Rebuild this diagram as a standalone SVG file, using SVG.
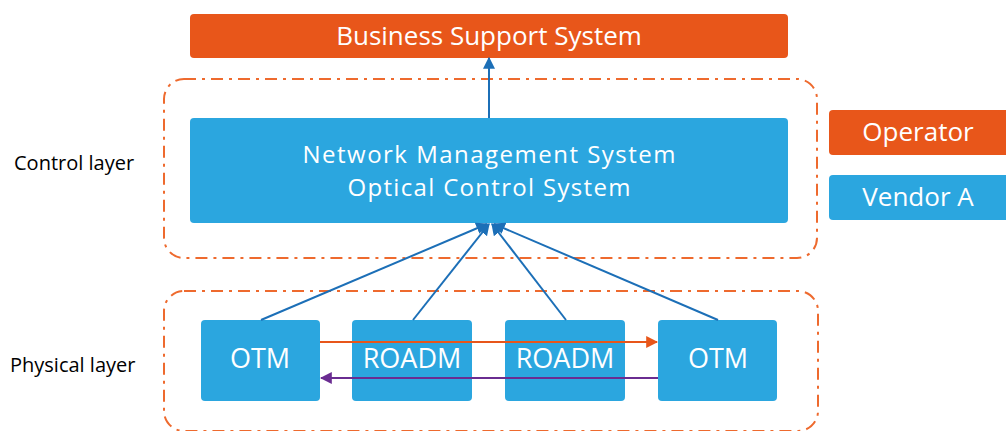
<svg xmlns="http://www.w3.org/2000/svg" width="1006" height="431" viewBox="0 0 1006 431">
<style>
.txt{font-family:"Open Sans","Noto Sans","Liberation Sans",sans-serif;fill:#fff;text-anchor:middle}
.lbl{font-family:"Open Sans","Noto Sans","Liberation Sans",sans-serif;fill:#000;font-size:20px}
.orange{fill:#E8561A}
.blue{fill:#2BA6DF}
.zone{fill:none;stroke:#EE6A2E;stroke-width:2;stroke-dasharray:12 6 3 6}
.up{stroke:#1C6FB7;stroke-width:2;fill:none;marker-end:url(#ab)}
</style>
<defs>
<marker id="ab" viewBox="0 0 10 10" refX="9" refY="5" markerWidth="6" markerHeight="6" orient="auto" markerUnits="strokeWidth"><path d="M0,0L10,5L0,10z" fill="#1C6FB7"/></marker>
<marker id="ao" viewBox="0 0 10 10" refX="9" refY="5" markerWidth="6" markerHeight="6" orient="auto" markerUnits="strokeWidth"><path d="M0,0L10,5L0,10z" fill="#E8561A"/></marker>
<marker id="ap" viewBox="0 0 10 10" refX="9" refY="5" markerWidth="6" markerHeight="6" orient="auto" markerUnits="strokeWidth"><path d="M0,0L10,5L0,10z" fill="#6A2C91"/></marker>
</defs>
<rect width="1006" height="431" fill="#fff"/>
<g id="control-zone"><rect class="zone" x="164" y="79" width="653" height="179" rx="20"/></g>
<g id="physical-zone"><rect class="zone" x="164" y="291" width="654" height="140" rx="20"/></g>
<g id="control-label"><text class="lbl" x="14" y="170">Control layer</text></g>
<g id="physical-label"><text class="lbl" x="10" y="372">Physical layer</text></g>
<g id="bss"><rect class="orange" x="190" y="14" width="598" height="44" rx="4"/><text class="txt" x="489" y="45" font-size="26">Business Support System</text></g>
<g id="nms"><rect class="blue" x="190" y="118" width="598" height="105" rx="4"/><text class="txt" x="489" y="162.5" font-size="24" textLength="373" lengthAdjust="spacing">Network Management System</text><text class="txt" x="489" y="195.5" font-size="24" textLength="283" lengthAdjust="spacing">Optical Control System</text></g>
<g id="operator"><rect class="orange" x="829" y="110" width="180" height="45" rx="4"/><text class="txt" x="918" y="141" font-size="26">Operator</text></g>
<g id="vendor"><rect class="blue" x="829" y="175" width="180" height="45" rx="4"/><text class="txt" x="918" y="206" font-size="26">Vendor A</text></g>
<g id="otm1"><rect class="blue" x="201" y="320" width="119" height="81" rx="4"/><text class="txt" x="260" y="368" font-size="27">OTM</text></g>
<g id="roadm1"><rect class="blue" x="352" y="320" width="120" height="81" rx="4"/><text class="txt" x="412" y="368" font-size="27">ROADM</text></g>
<g id="roadm2"><rect class="blue" x="505" y="320" width="120" height="81" rx="4"/><text class="txt" x="565" y="368" font-size="27">ROADM</text></g>
<g id="otm2"><rect class="blue" x="658" y="320" width="119" height="81" rx="4"/><text class="txt" x="718" y="368" font-size="27">OTM</text></g>
<g id="connectors">
<line class="up" x1="489" y1="118" x2="489" y2="58"/>
<line class="up" x1="261" y1="320" x2="487" y2="224"/>
<line class="up" x1="413" y1="320" x2="489" y2="224"/>
<line class="up" x1="566" y1="320" x2="492" y2="224"/>
<line class="up" x1="718" y1="320" x2="494" y2="224"/>
<line x1="320" y1="342" x2="657" y2="342" stroke="#E8561A" stroke-width="2" marker-end="url(#ao)"/>
<line x1="658" y1="378" x2="321" y2="378" stroke="#6A2C91" stroke-width="2" marker-end="url(#ap)"/>
</g>
</svg>
